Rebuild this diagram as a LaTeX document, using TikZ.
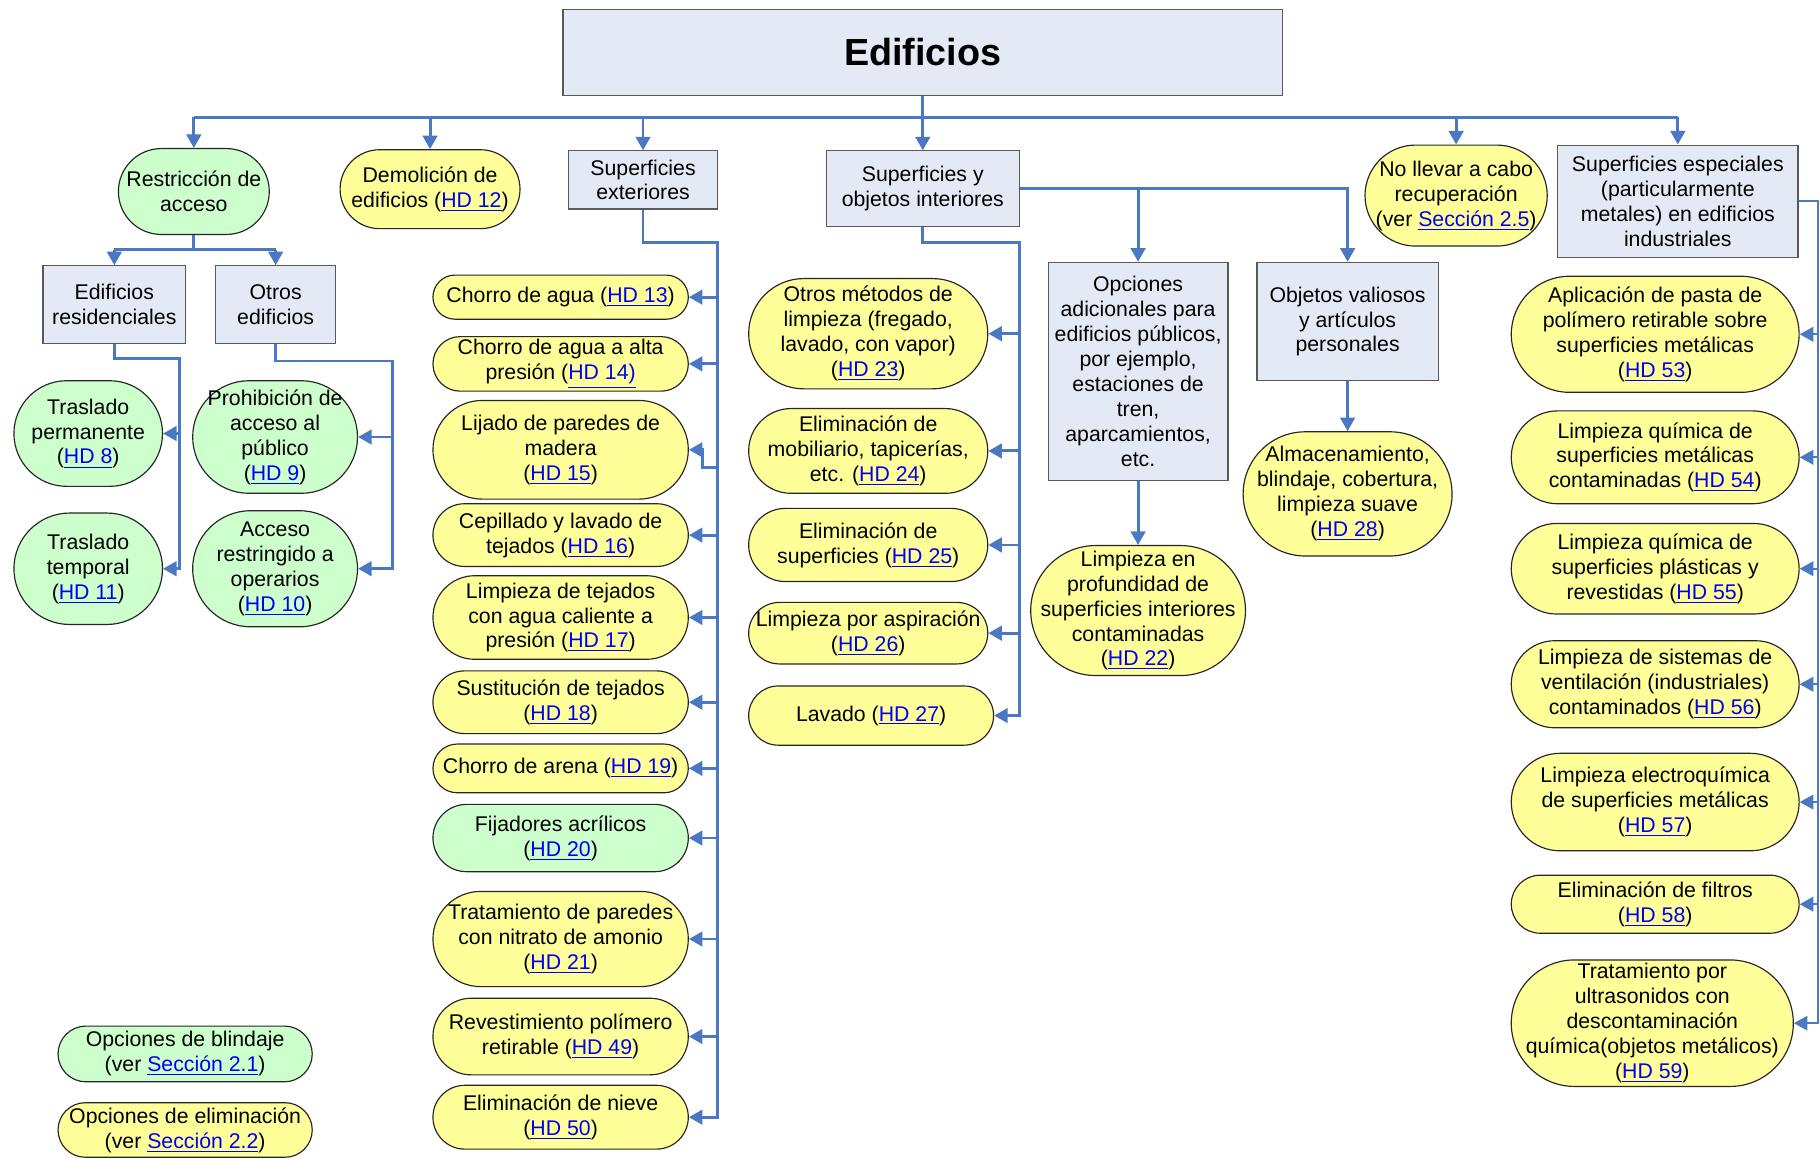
\documentclass[tikz,border=0pt]{standalone}
\usepackage{fontspec}
\setmainfont{Liberation Sans}
\usetikzlibrary{arrows.meta,calc}
\definecolor{boxfill}{HTML}{E4EAF5}
\definecolor{grn}{HTML}{CCFFCC}
\definecolor{ylw}{HTML}{FFFF99}
\definecolor{wire}{HTML}{4A78C2}
\definecolor{linkblue}{HTML}{0000EE}
\newcommand{\lnk}[1]{\textcolor{linkblue}{\underline{#1}}}

\begin{document}
\begin{tikzpicture}[x=0.6pt,y=-0.6pt,
  every node/.style={font=\fontsize{11}{12.9}\selectfont, align=center, inner sep=1pt, text=black},
  box/.style 2 args={rectangle, draw=black!65, line width=0.6pt, fill=boxfill,
    minimum width=#1*0.6pt, minimum height=#2*0.6pt},
  pill/.style n args={3}{rectangle, draw=black!85, line width=0.6pt, fill=#3,
    minimum width=#1*0.6pt, minimum height=#2*0.6pt, rounded corners={min(#1,#2)*0.3pt}},
  conn/.style={draw=wire, line width=1.5pt},
  arr/.style={conn, -{Triangle[length=7pt,width=7.5pt]}},
  thinarr/.style={arr, line width=1pt},
]
\fill[white] (0,0) rectangle (1568,997);
\useasboundingbox (0,0) rectangle (1568,997);

% top level
\node[box={620}{74}, font=\fontsize{19.5}{22}\selectfont\bfseries] (title) at (795,45) {Edificios};
\node[pill={130}{74}{grn}] (restr) at (167,165) {Restricción de\\acceso};
\node[pill={155}{68}{ylw}] (demol) at (370.5,163) {Demolición de\\edificios (\lnk{HD 12})};
\node[box={128}{50}] (sext) at (554,155) {Superficies\\exteriores};
\node[box={166}{65}] (sint) at (795,162.5) {Superficies y\\objetos interiores};
\node[pill={157}{87}{ylw}] (noll) at (1254.5,168.5) {No llevar a cabo\\recuperación\\(ver \lnk{Sección 2.5})};
\node[box={207}{97}] (sesp) at (1445.5,173.5) {Superficies especiales\\(particularmente\\metales) en edificios\\industriales};

% access restriction branch
\node[box={123}{67}] (resid) at (98.5,262.5) {Edificios\\residenciales};
\node[box={103}{67}] (otros) at (237.5,262.5) {Otros\\edificios};
\node[pill={128}{91}{grn}] (tperm) at (76,373.5) {Traslado\\permanente\\(\lnk{HD 8})};
\node[pill={128}{96}{grn}] (ttemp) at (76,490) {Traslado\\temporal\\(\lnk{HD 11})};
\node[pill={142}{97}{grn}] (prohib) at (237,376.5) {Prohibición de\\acceso al\\público\\(\lnk{HD 9})};
\node[pill={142}{100}{grn}] (acceso) at (237,490) {Acceso\\restringido a\\operarios\\(\lnk{HD 10})};

% exterior surfaces
\node[pill={220}{38}{ylw}] (e13) at (483,256) {Chorro de agua (\lnk{HD 13})};
\node[pill={220}{47}{ylw}] (e14) at (483,313.5) {Chorro de agua a alta\\presión (\lnk{HD 14)}};
\node[pill={220}{85}{ylw}] (e15) at (483,387.5) {Lijado de paredes de\\madera\\(\lnk{HD 15})};
\node[pill={220}{54}{ylw}] (e16) at (483,461) {Cepillado y lavado de\\tejados (\lnk{HD 16})};
\node[pill={220}{72}{ylw}] (e17) at (483,532) {Limpieza de tejados\\con agua caliente a\\presión (\lnk{HD 17})};
\node[pill={220}{54}{ylw}] (e18) at (483,605) {Sustitución de tejados\\(\lnk{HD 18})};
\node[pill={220}{42}{ylw}] (e19) at (483,662) {Chorro de arena (\lnk{HD 19})};
\node[pill={220}{58}{grn}] (e20) at (483,722) {Fijadores acrílicos\\(\lnk{HD 20})};
\node[pill={220}{82}{ylw}] (e21) at (483,809) {Tratamiento de paredes\\con nitrato de amonio\\(\lnk{HD 21})};
\node[pill={220}{66}{ylw}] (e49) at (483,893) {Revestimiento polímero\\retirable (\lnk{HD 49})};
\node[pill={220}{55}{ylw}] (e50) at (483,962.5) {Eliminación de nieve\\(\lnk{HD 50})};

% interior surfaces and objects
\node[pill={206}{95}{ylw}] (i23) at (748,287.5) {Otros métodos de\\limpieza (fregado,\\lavado, con vapor)\\(\lnk{HD 23})};
\node[pill={206}{73}{ylw}] (i24) at (748,388.5) {Eliminación de\\mobiliario, tapicerías,\\etc. (\lnk{HD 24})};
\node[pill={206}{63}{ylw}] (i25) at (748,469.5) {Eliminación de\\superficies (\lnk{HD 25})};
\node[pill={206}{53}{ylw}] (i26) at (748,545.5) {Limpieza por aspiración\\(\lnk{HD 26})};
\node[pill={211}{51}{ylw}] (i27) at (750.5,616.5) {Lavado (\lnk{HD 27})};
\node[box={155}{188}] (opc) at (980.5,320) {Opciones\\adicionales para\\edificios públicos,\\por ejemplo,\\estaciones de\\tren,\\aparcamientos,\\etc.};
\node[box={156}{102}] (obj) at (1161,277) {Objetos valiosos\\y artículos\\personales};
\node[pill={185}{112}{ylw}] (i22) at (980.5,526) {Limpieza en\\profundidad de\\superficies interiores\\contaminadas\\(\lnk{HD 22})};
\node[pill={180}{107}{ylw}] (i28) at (1161,425.5) {Almacenamiento,\\blindaje, cobertura,\\limpieza suave\\(\lnk{HD 28})};

% special surfaces
\node[pill={248}{100}{ylw}] (s53) at (1426,288) {Aplicación de pasta de\\polímero retirable sobre\\superficies metálicas\\(\lnk{HD 53})};
\node[pill={248}{80}{ylw}] (s54) at (1426,394) {Limpieza química de\\superficies metálicas\\contaminadas (\lnk{HD 54})};
\node[pill={248}{78}{ylw}] (s55) at (1426,490) {Limpieza química de\\superficies plásticas y\\revestidas (\lnk{HD 55})};
\node[pill={248}{75}{ylw}] (s56) at (1426,589.5) {Limpieza de sistemas de\\ventilación (industriales)\\contaminados (\lnk{HD 56})};
\node[pill={248}{84}{ylw}] (s57) at (1426,691) {Limpieza electroquímica\\de superficies metálicas\\(\lnk{HD 57})};
\node[pill={248}{50}{ylw}] (s58) at (1426,779) {Eliminación de filtros\\(\lnk{HD 58})};
\node[pill={243}{109}{ylw}] (s59) at (1423.5,881.5) {Tratamiento por\\ultrasonidos con\\descontaminación\\química(objetos metálicos)\\(\lnk{HD 59})};

% legend
\node[pill={219}{48}{grn}] (leg1) at (159.5,908) {Opciones de blindaje\\(ver \lnk{Sección 2.1})};
\node[pill={219}{47}{ylw}] (leg2) at (159.5,973.5) {Opciones de eliminación\\(ver \lnk{Sección 2.2})};

% main distribution bus
\coordinate (bus) at (795,101);
\draw[conn] (restr.north |- bus) -- (sesp.north |- bus);
\draw[arr] (title.south) -- (sint.north);
\foreach \n in {restr,demol,sext,noll,sesp} \draw[arr] (\n.north |- bus) -- (\n.north);

% access restriction
\coordinate (rbus) at (167,215);
\draw[conn] (restr.south) -- (rbus);
\draw[conn] (resid.north |- rbus) -- (otros.north |- rbus);
\draw[arr] (resid.north |- rbus) -- (resid.north);
\draw[arr] (otros.north |- rbus) -- (otros.north);
\coordinate (rsp) at (155,309);
\draw[arr] (resid.south) |- (rsp) |- (ttemp.east);
\draw[arr] (tperm.east -| rsp) -- (tperm.east);
\coordinate (osp) at (338,311);
\draw[arr] (otros.south) |- (osp) |- (acceso.east);
\draw[arr] (prohib.east -| osp) -- (prohib.east);

% exterior spine
\coordinate (esp) at (618,209);
\draw[arr] (sext.south) |- (esp) |- (e50.east);
\foreach \n in {e13,e14,e16,e17,e18,e19,e20,e21,e49} \draw[arr] (\n.east -| esp) -- (\n.east);
\coordinate (ljk) at (605,403);
\draw[arr] (ljk -| esp) -- (ljk) |- (e15.east);

% interior spine
\coordinate (isp) at (878,209);
\draw[arr] (sint.south) |- (isp) |- (i27.east);
\foreach \n in {i23,i24,i25,i26} \draw[arr] (\n.east -| isp) -- (\n.east);
\draw[arr] (sint.east) -| (obj.north);
\draw[arr] (sint.east -| opc.north) -- (opc.north);
\draw[arr] (opc.south) -- (i22.north);
\draw[arr] (obj.south) -- (i28.north);

% special surfaces spine
\coordinate (ssp) at (1566,173);
\draw[thinarr] (sesp.east) -- (sesp.east -| ssp) |- (s59.east);
\foreach \n in {s53,s54,s55,s56,s57,s58} \draw[thinarr] (\n.east -| ssp) -- (\n.east);
\end{tikzpicture}
\end{document}
